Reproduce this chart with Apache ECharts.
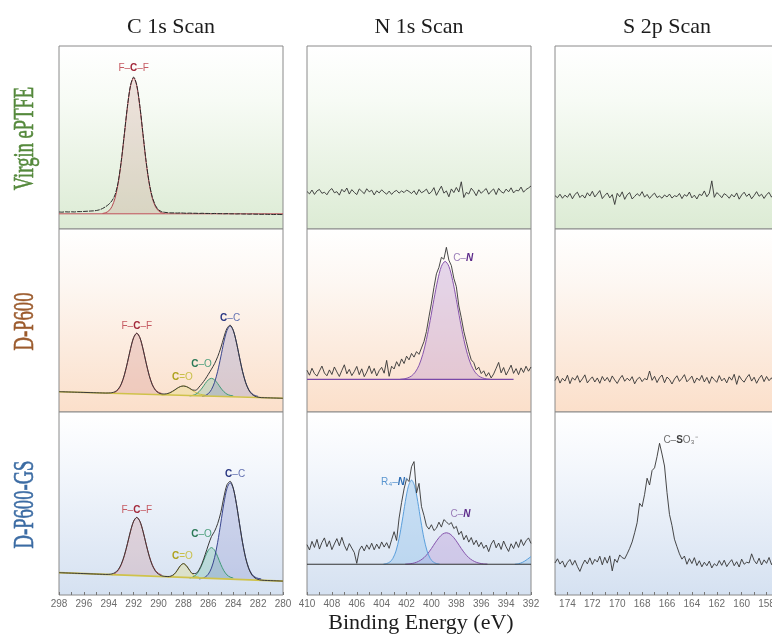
<!DOCTYPE html>
<html><head><meta charset="utf-8">
<script src="https://cdn.jsdelivr.net/npm/echarts@6/dist/echarts.min.js"></script>
<style>html,body{margin:0;padding:0;background:#fff}#c{width:772px;height:642px}</style>
</head><body><div id="c"></div>
<script>
// ================= DATA =================
const columnTitles = ['C 1s Scan', 'N 1s Scan', 'S 2p Scan'];
const rowLabels = ['Virgin ePTFE', 'D-P600', 'D-P600-GS'];
const axisTitle = 'Binding Energy (eV)';

const c1Range = [298, 280];
const n1Range = [410, 392];
const s2Range = [175, 157];
const c1TickLabels = [298, 296, 294, 292, 290, 288, 286, 284, 282, 280];
const n1TickLabels = [410, 408, 406, 404, 402, 400, 398, 396, 394, 392];
const s2TickLabels = [174, 172, 170, 168, 166, 164, 162, 160, 158];

const c1Step = 0.25;   // C 1s traces sampled every 0.25 eV from 298 eV
const noiseStep = 0.2; // N 1s / S 2p traces sampled every 0.2 eV from range start

// ---- Row 1 : Virgin ePTFE ----
const v_c1Raw = [
  9.3, 9.2, 9.4, 9.3, 9.4, 9.3, 9.5, 9.5,
  9.6, 9.7, 9.8, 9.9, 10.1, 10.5, 11.2, 12.2,
  13.5, 15.4, 18.6, 25.5, 37.0, 51.9, 67.1, 78.6,
  83.0, 78.6, 67.1, 51.9, 37.0, 25.2, 17.4, 12.9,
  10.5, 9.5, 9.1, 8.9, 8.8, 8.8, 8.7, 8.8,
  8.7, 8.6, 8.7, 8.6, 8.6, 8.5, 8.6, 8.5,
  8.5, 8.4, 8.5, 8.4, 8.4, 8.3, 8.4, 8.3,
  8.3, 8.2, 8.3, 8.2, 8.2, 8.1, 8.2, 8.1,
  8.1, 8.0, 8.1, 8.0, 8.0, 7.9, 8.0, 7.9,
  7.9];
const v_c1FCF = [[294.5,8.5],[294.25,8.9],[294,9.9],[293.75,12.2],[293.5,16.8],[293.25,24.8],[293,36.6],[292.75,51.5],[292.5,66.7],[292.25,78.2],[292,82.6],[291.75,78.2],[291.5,66.7],[291.25,51.5],[291,36.6],[290.75,24.8],[290.5,16.8],[290.25,12.2],[290,9.9],[289.75,8.9],[289.5,8.5]];
const v_c1Base = [[298, 8.3], [280, 8.3]];
const v_n1Raw = [
  20.5, 19.2, 21.3, 18.9, 20.8, 21.6, 19.5, 20.1, 18.7, 21.0,
  22.1, 19.8, 20.4, 18.5, 21.7, 20.2, 22.4, 19.1, 21.5, 20.0,
  18.8, 21.9, 20.6, 19.3, 22.0, 20.3, 21.2, 18.6, 20.9, 19.7,
  21.4, 20.1, 19.0, 20.7, 18.9, 20.4, 21.1, 19.6, 20.8, 19.9,
  21.3, 20.5, 19.4, 20.9, 18.7, 21.6, 19.8, 20.6, 21.8, 19.2,
  20.3, 22.6, 18.4, 21.0, 23.4, 19.6, 20.8, 17.6, 21.9, 19.9,
  22.7, 20.2, 25.8, 17.2, 20.0, 19.1, 22.3, 20.6, 18.2, 21.4,
  19.5, 20.9, 22.1, 19.0, 20.7, 21.9, 18.8, 22.2, 20.4, 19.6,
  21.8, 20.3, 22.5, 19.7, 21.2, 20.8, 22.9, 20.1, 21.6, 22.4,
  23.5];
const v_s2Raw = [
  18.2, 17.1, 19.0, 16.8, 18.5, 17.3, 19.4, 16.5, 18.9, 20.1,
  17.2, 18.6, 16.9, 19.8, 18.0, 20.6, 17.5, 19.2, 21.0, 16.6,
  18.3, 19.7, 17.0, 18.8, 13.4, 19.5, 17.6, 20.3, 16.2, 18.7,
  19.9, 16.4, 17.8, 19.3, 18.1, 20.4, 17.4, 18.9, 16.7, 18.4,
  19.6, 17.2, 18.0, 16.8, 18.6, 17.5, 19.1, 16.9, 18.2, 17.7,
  19.4, 16.6, 18.8, 17.9, 20.2, 17.0, 18.5, 16.4, 19.0, 18.3,
  20.8, 17.6, 19.5, 26.3, 17.3, 19.9, 18.7, 17.1, 19.3, 18.4,
  16.8, 18.9, 17.5, 19.7, 16.3, 18.6, 20.1, 17.8, 19.2, 16.5,
  18.3, 20.4, 17.9, 19.0, 16.7, 18.8, 20.0, 17.4, 19.6, 18.5,
  18.9];

// ---- Row 2 : D-P600 ----
const p_c1Env = [
  11.1, 11.05, 11.0, 10.95, 10.9, 10.85, 10.8, 10.75,
  10.7, 10.65, 10.6, 10.55, 10.5, 10.45, 10.4, 10.35,
  10.4, 10.55, 11.1, 12.45, 15.3, 20.25, 27.1, 34.65,
  40.7, 43.05, 40.6, 34.45, 26.8, 19.85, 14.8, 11.85,
  10.45, 9.9, 9.85, 10.15, 10.85, 11.85, 13.0, 13.9,
  14.2, 13.85, 12.95, 12.0, 11.9, 13.6, 15.6, 17.9,
  20.6, 23.4, 26.4, 30.2, 35.0, 40.85, 45.75, 47.45,
  44.7, 38.2, 29.95, 22.05, 15.95, 11.95, 9.7, 8.6,
  8.1, 7.85, 7.8, 7.75, 7.7, 7.65, 7.6, 7.55,
  7.5];
const p_c1Base = [[298, 11.1], [280, 7.5]];
const p_c1FCF = [[293.75,10.15],[293.5,10.75],[293.25,12.15],[293,15.05],[292.75,20.05],[292.5,26.95],[292.25,34.55],[292,40.65],[291.75,43.05],[291.5,40.65],[291.25,34.55],[291,26.95],[290.75,20.05],[290.5,15.05],[290.25,12.15],[290,10.75],[289.75,10.15]];
const p_c1CdO = [[289.75,9.25],[289.5,9.45],[289.25,9.9],[289,10.65],[288.75,11.7],[288.5,12.9],[288.25,13.85],[288,14.2],[287.75,13.85],[287.5,12.9],[287.25,11.7],[287,10.65],[286.75,9.9],[286.5,9.45],[286.25,9.25]];
const p_c1CO = [[287.5,8.8],[287.25,9.1],[287,9.75],[286.75,11.1],[286.5,13.1],[286.25,15.55],[286,17.6],[285.75,18.4],[285.5,17.6],[285.25,15.55],[285,13.1],[284.75,11.1],[284.5,9.75],[284.25,9.1],[284,8.8]];
const p_c1CC = [[286.5,8.55],[286.25,9.0],[286,10.05],[285.75,12.25],[285.5,16.2],[285.25,22.25],[285,30.1],[284.75,38.3],[284.5,44.6],[284.25,47.0],[284,44.6],[283.75,38.3],[283.5,30.1],[283.25,22.25],[283,16.2],[282.75,12.25],[282.5,10.05],[282.25,9.0],[282,8.55]];
const p_n1Raw = [
  22.8, 20.1, 23.9, 21.0, 19.6, 22.4, 25.1, 21.3, 19.8, 23.0,
  20.5, 24.6, 21.9, 19.4, 22.7, 25.8, 20.9, 23.3, 19.9, 22.1,
  24.9, 20.4, 23.6, 19.3, 21.8, 25.2, 21.0, 23.8, 19.7, 22.6,
  24.4, 21.2, 28.2, 19.5, 25.0, 23.5, 27.5, 25.0, 29.0, 26.5,
  30.5, 28.5, 32.0, 30.0, 33.0, 31.5, 35.0, 38.5, 44.0, 52.0,
  59.5, 68.0, 75.5, 79.0, 84.5, 83.5, 90.0, 83.0, 80.0, 73.0,
  68.5, 58.0, 51.5, 44.0, 38.5, 33.0, 28.5, 27.0, 23.0, 24.5,
  21.0, 22.5, 19.5, 21.5, 18.6, 20.8, 23.9, 27.1, 21.4, 24.3,
  20.2, 22.8, 25.6, 21.1, 23.7, 20.4, 24.1, 21.6, 25.0, 22.3,
  24.6];
const p_n1CN = [[402.5,17.9],[402.2,18.1],[401.9,18.65],[401.6,19.7],[401.3,21.8],[401,25.5],[400.7,31.4],[400.4,39.7],[400.1,50.1],[399.8,61.5],[399.5,72.0],[399.2,79.6],[398.9,82.3],[398.6,79.6],[398.3,72.0],[398,61.5],[397.7,50.1],[397.4,39.7],[397.1,31.4],[396.8,25.5],[396.5,21.8],[396.2,19.7],[395.9,18.65],[395.6,18.1],[395.3,17.9]];
const p_n1Base = [[410, 17.8], [393.4, 17.8]];
const p_s2Raw = [
  17.2, 19.6, 15.8, 18.4, 16.9, 20.1, 15.5, 18.8, 17.4, 19.9,
  16.2, 18.1, 20.3, 15.9, 17.7, 19.2, 16.4, 18.6, 15.7, 19.4,
  17.0, 18.9, 16.3, 19.7, 17.5, 15.6, 18.2, 20.0, 16.8, 18.5,
  17.1, 19.3, 15.4, 17.9, 19.0, 16.6, 18.3, 17.6, 22.4, 17.3,
  19.5, 16.1, 18.7, 20.2, 16.0, 19.1, 17.8, 15.3, 18.0, 19.8,
  16.7, 18.4, 20.4, 16.5, 17.9, 19.6, 15.8, 18.6, 17.2, 20.0,
  16.4, 18.9, 15.6, 19.3, 17.7, 16.2, 19.9, 17.0, 18.5, 15.9,
  19.2, 17.4, 20.6, 15.1, 19.8, 17.6, 16.3, 18.8, 20.5, 16.9,
  19.0, 15.7, 18.3, 20.1, 16.6, 19.4, 17.1, 18.7, 16.0, 19.5,
  17.8];

// ---- Row 3 : D-P600-GS ----
const g_c1Env = [
  12.2, 12.14, 12.07, 12.01, 11.95, 11.88, 11.82, 11.75,
  11.69, 11.63, 11.56, 11.5, 11.43, 11.37, 11.31, 11.24,
  11.28, 11.52, 12.25, 13.79, 16.83, 21.66, 28.1, 35.03,
  40.37, 42.41, 40.24, 34.78, 27.72, 21.15, 16.19, 13.02,
  11.36, 10.5, 10.16, 10.07, 10.35, 11.34, 13.48, 16.01,
  17.15, 15.88, 13.47, 11.71, 11.79, 13.73, 17.36, 22.2,
  27.29, 31.92, 34.8, 39.0, 45.0, 53.5, 60.25, 62.14,
  58.48, 49.96, 39.1, 28.53, 20.07, 14.31, 10.94, 9.28,
  8.52, 8.15, 7.99, 7.92, 7.86, 7.79, 7.73, 7.66,
  7.6];
const g_c1Base = [[298, 12.2], [280, 7.6]];
const g_c1FCF = [[293.75,11.0],[293.5,11.8],[293.25,13.4],[293,16.5],[292.75,21.4],[292.5,27.9],[292.25,34.9],[292,40.3],[291.75,42.4],[291.5,40.3],[291.25,34.9],[291,27.9],[290.75,21.4],[290.5,16.5],[290.25,13.4],[290,11.8],[289.75,11.0]];
const g_c1CdO = [[289.25,9.75],[289,10.1],[288.75,11.15],[288.5,13.35],[288.25,15.95],[288,17.15],[287.75,15.95],[287.5,13.35],[287.25,11.15],[287,10.1],[286.75,9.75]];
const g_c1CO = [[287.5,9.3],[287.25,9.8],[287,10.95],[286.75,13.25],[286.5,16.75],[286.25,20.95],[286,24.5],[285.75,25.9],[285.5,24.5],[285.25,20.95],[285,16.75],[284.75,13.25],[284.5,10.95],[284.25,9.8],[284,9.3]];
const g_c1CC = [[286.75,8.8],[286.5,9.1],[286.25,9.8],[286,11.4],[285.75,14.7],[285.5,20.4],[285.25,28.8],[285,39.3],[284.75,50.1],[284.5,58.3],[284.25,61.4],[284,58.3],[283.75,50.1],[283.5,39.3],[283.25,28.8],[283,20.4],[282.75,14.7],[282.5,11.4],[282.25,9.8],[282,9.1],[281.75,8.8]];
const g_n1Raw = [
  27.5, 24.6, 29.3, 26.0, 30.4, 25.1, 28.7, 31.2, 26.4, 29.6,
  24.8, 27.9, 30.8, 26.9, 31.5, 27.2, 24.3, 28.1, 25.6, 23.2,
  17.3, 24.5, 26.8, 24.1, 27.4, 25.0, 28.3, 24.7, 27.8, 25.3,
  29.0, 26.2, 28.6, 25.5, 30.2, 34.6, 29.8, 42.0, 50.5, 58.0,
  63.5, 62.0, 70.1, 72.9, 55.7, 61.0, 48.3, 43.5, 37.8, 36.0,
  38.4, 35.2, 36.5, 39.8, 37.1, 41.2, 40.0, 38.5, 39.6, 36.3,
  37.5, 33.0, 34.8, 30.2, 32.6, 28.9, 31.4, 27.5, 29.9, 26.4,
  28.8, 25.5, 27.3, 23.7, 27.8, 30.0, 25.8, 28.4, 24.9, 29.5,
  26.3, 23.8, 28.0, 25.4, 29.1, 26.0, 30.3, 27.0, 29.6, 31.2,
  28.2];
const g_n1R4N = [[403.85,16.9],[403.6,17.2],[403.35,18.0],[403.1,20.0],[402.85,24.0],[402.6,30.9],[402.35,40.4],[402.1,51.0],[401.85,59.5],[401.6,62.8],[401.35,59.5],[401.1,51.0],[400.85,40.4],[400.6,30.9],[400.35,24.0],[400.1,20.0],[399.85,18.0],[399.6,17.2],[399.35,16.9]];
const g_n1CN = [[402.1,16.9],[401.8,17.0],[401.5,17.3],[401.2,17.9],[400.9,18.9],[400.6,20.4],[400.3,22.6],[400,25.4],[399.7,28.5],[399.4,31.3],[399.1,33.3],[398.8,34.0],[398.5,33.3],[398.2,31.3],[397.9,28.5],[397.6,25.4],[397.3,22.6],[397,20.4],[396.7,18.9],[396.4,17.9],[396.1,17.3],[395.8,17.0],[395.5,16.9]];
const g_n1Edge = [[393.3,16.8],[393.0,17.1],[392.7,17.8],[392.4,19.0],[392.0,21.0]];
const g_n1Base = [[410, 16.8], [392, 16.8]];
const g_s2Raw = [
  17.5, 19.8, 16.9, 18.6, 15.2, 17.8, 19.4, 16.3, 18.9, 15.6,
  12.9, 16.4, 19.1, 17.0, 20.3, 16.7, 19.5, 18.0, 21.2, 16.5,
  20.6, 17.4, 21.4, 13.2, 19.6, 17.8, 21.9, 20.4, 19.8, 22.5,
  25.5, 29.0, 34.0, 39.5, 50.1, 48.3, 55.0, 63.8, 60.1, 68.0,
  69.5, 75.6, 82.9, 77.0, 70.5, 56.0, 44.0, 38.0, 30.5, 26.4,
  22.5, 19.6, 21.3, 16.8, 19.9, 17.2, 20.4, 16.1, 18.7, 15.4,
  17.9, 16.0, 18.5, 14.8, 17.1, 15.9, 18.8, 16.2, 19.0, 15.5,
  17.6, 19.3, 16.0, 18.2, 15.3, 19.6, 16.8, 17.9, 17.5, 22.5,
  18.9, 17.0, 20.1, 16.4, 19.2, 17.3, 20.5, 16.6, 19.0, 17.8,
  18.4];

// ================= BUILD =================
function grid(start, step, arr, expected, name) {
  if (arr.length !== expected) throw new Error(name + ' has ' + arr.length + ' values, expected ' + expected);
  return arr.map((v, i) => [+(start - i * step).toFixed(3), v]);
}
const L = [59, 307, 555], T = [46, 229, 412], W = 224, H = 183;
const ranges = [c1Range, n1Range, s2Range];
const tickLabels = [c1TickLabels, n1TickLabels, s2TickLabels];
const bgStops = [
  [['#ffffff', 0], ['#f7fbf5', 0.3], ['#dcebd4', 1]],
  [['#ffffff', 0], ['#fdf7f2', 0.3], ['#fbdfca', 1]],
  [['#ffffff', 0], ['#f4f7fc', 0.3], ['#d5e1f1', 1]]
];
const grids = [], xAxes = [], yAxes = [];
for (let r = 0; r < 3; r++) for (let c = 0; c < 3; c++) {
  grids.push({
    left: L[c], top: T[r], width: W, height: H, show: true,
    outerBoundsMode: 'none', containLabel: false,
    borderColor: '#8a8a8a', borderWidth: 1,
    backgroundColor: new echarts.graphic.LinearGradient(0, 0, 0, 1,
      bgStops[r].map(s => ({ offset: s[1], color: s[0] })))
  });
  const rg = ranges[c];
  const minorTicks = [];
  for (let v = Math.ceil(rg[1]); v <= rg[0]; v++) minorTicks.push(v);
  xAxes.push({
    gridIndex: r * 3 + c, type: 'value', min: rg[1], max: rg[0], inverse: true,
    axisLine: { show: false }, splitLine: { show: false },
    axisTick: { show: r === 2, inside: true, length: 3, customValues: minorTicks, lineStyle: { color: '#777' } },
    axisLabel: { show: r === 2, customValues: tickLabels[c], fontSize: 10, color: '#6b6b6b', margin: 4,
      hideOverlap: false, showMinLabel: true, showMaxLabel: true,
      fontFamily: '"Liberation Sans", Arial, sans-serif' }
  });
  yAxes.push({ gridIndex: r * 3 + c, type: 'value', min: 0, max: 100, show: false });
}

const lblFont = '"Liberation Sans", Arial, sans-serif';
function lbl(formatter, rich, offset) {
  Object.values(rich).forEach(s => { s.fontFamily = lblFont; s.fontSize = s.fontSize || 10; });
  return {
    symbol: 'circle', symbolSize: 1, silent: true, itemStyle: { color: 'rgba(0,0,0,0)' },
    data: [{ type: 'max' }],
    label: { show: true, position: 'inside', offset, formatter, rich }
  };
}
const R = {
  fcf: () => ({ a: { color: '#c55a62' }, b: { color: '#a3283a', fontWeight: 'bold' } }),
  cdo: () => ({ a: { color: '#c9c04a' }, b: { color: '#aea21e', fontWeight: 'bold' } }),
  co: () => ({ a: { color: '#4d9f7d' }, b: { color: '#2a7856', fontWeight: 'bold' } }),
  cc: () => ({ a: { color: '#6472b2' }, b: { color: '#2b3883', fontWeight: 'bold' } }),
  cn: () => ({ a: { color: '#9a7db8' }, b: { color: '#5c2a8a', fontWeight: 'bold', fontStyle: 'italic' } }),
  r4: () => ({ a: { color: '#5b96d0' }, b: { color: '#2d6db4', fontWeight: 'bold', fontStyle: 'italic' } }),
  so: () => ({ a: { color: '#6f6f6f' }, b: { color: '#3d3d3d', fontWeight: 'bold' } })
};

function ln(gi, data, color, width, extra) {
  return Object.assign({
    type: 'line', xAxisIndex: gi, yAxisIndex: gi, data, symbol: 'none', showSymbol: false,
    silent: true, animation: false, lineStyle: { color, width }, z: 3
  }, extra || {});
}
function comp(gi, data, color, fill, origin, markPoint) {
  return ln(gi, data, color, 1, {
    smooth: 0.3, areaStyle: { color: fill, origin, opacity: 1 }, z: 2, markPoint
  });
}

const col = {
  fcf: ['#b4434e', 'rgba(196,112,118,0.22)'],
  cdo: ['#cbc13f', 'rgba(222,214,110,0.30)'],
  co: ['#3f9a77', 'rgba(105,190,158,0.30)'],
  cc: ['#39458f', 'rgba(118,128,196,0.26)'],
  cn: ['#8654ad', 'rgba(172,128,204,0.30)'],
  r4: ['#5a9fdc', 'rgba(138,188,234,0.38)']
};

const C1 = c1Range[0], N1 = n1Range[0], S2 = s2Range[0];
const series = [
  // Row 1
  ln(0, v_c1Base, '#c0505a', 1),
  comp(0, v_c1FCF, col.fcf[0], 'rgba(190,120,110,0.20)', 8.3, lbl('{a|F–}{b|C}{a|–F}', R.fcf(), [0, -10])),
  ln(0, grid(C1, c1Step, v_c1Raw, 73, 'v_c1Raw'), '#2a2a2a', 1, { smooth: 0.3, lineStyle: { color: '#2a2a2a', width: 1, type: [5, 1] } }),
  ln(1, grid(N1, noiseStep, v_n1Raw, 91, 'v_n1Raw'), '#333', 0.9),
  ln(2, grid(S2, noiseStep, v_s2Raw, 91, 'v_s2Raw'), '#333', 0.9),
  // Row 2
  ln(3, p_c1Base, '#cfc24a', 1.6),
  comp(3, p_c1FCF, col.fcf[0], col.fcf[1], 9.85, lbl('{a|F–}{b|C}{a|–F}', R.fcf(), [0, -7])),
  comp(3, p_c1CdO, col.cdo[0], col.cdo[1], 9.1, lbl('{b|C}{a|=O}', R.cdo(), [-1, -9])),
  comp(3, p_c1CO, col.co[0], col.co[1], 8.65, lbl('{b|C}{a|–O}', R.co(), [-10, -14])),
  comp(3, p_c1CC, col.cc[0], col.cc[1], 8.35, lbl('{b|C}{a|–C}', R.cc(), [0, -8])),
  ln(3, grid(C1, c1Step, p_c1Env, 73, 'p_c1Env'), '#3a3a3a', 1, { smooth: 0.3 }),
  ln(4, p_n1Base, '#7a48a8', 1.2),
  comp(4, p_n1CN, col.cn[0], col.cn[1], 17.8, lbl('{a|C–}{b|N}', R.cn(), [18, -3])),
  ln(4, grid(N1, noiseStep, p_n1Raw, 91, 'p_n1Raw'), '#333', 0.9),
  ln(5, grid(S2, noiseStep, p_s2Raw, 91, 'p_s2Raw'), '#333', 0.9),
  // Row 3
  ln(6, g_c1Base, '#cfc24a', 1.6),
  comp(6, g_c1FCF, col.fcf[0], col.fcf[1], 10.6, lbl('{a|F–}{b|C}{a|–F}', R.fcf(), [0, -7])),
  comp(6, g_c1CdO, col.cdo[0], col.cdo[1], 9.65, lbl('{b|C}{a|=O}', R.cdo(), [-1, -7])),
  comp(6, g_c1CO, col.co[0], col.co[1], 9.07, lbl('{b|C}{a|–O}', R.co(), [-10, -13])),
  comp(6, g_c1CC, col.cc[0], col.cc[1], 8.69, lbl('{b|C}{a|–C}', R.cc(), [5, -8])),
  ln(6, grid(C1, c1Step, g_c1Env, 73, 'g_c1Env'), '#3a3a3a', 1, { smooth: 0.3 }),
  ln(7, g_n1Base, '#333', 1.2),
  comp(7, g_n1CN, col.cn[0], col.cn[1], 16.8, lbl('{a|C–}{b|N}', R.cn(), [14, -19])),
  comp(7, g_n1R4N, col.r4[0], col.r4[1], 16.8, lbl('{a|R₄–}{b|N}{a|⁺}', R.r4(), [-17, 2])),
  comp(7, g_n1Edge, col.r4[0], col.r4[1], 16.8),
  ln(7, grid(N1, noiseStep, g_n1Raw, 91, 'g_n1Raw'), '#333', 0.9),
  ln(8, grid(S2, noiseStep, g_s2Raw, 91, 'g_s2Raw'), '#333', 0.9,
    { markPoint: lbl('{a|C–}{b|S}{a|O₃⁻}', R.so(), [21, -3]) })
];

const serif = '"Liberation Serif", "Times New Roman", serif';
const graphics = [];
columnTitles.forEach((t, c) => graphics.push({
  type: 'text', x: L[c] + W / 2, y: 27.5, silent: true,
  style: { text: t, font: '22px ' + serif, fill: '#1c1c1c', align: 'center', verticalAlign: 'middle' }
}));
const rowColors = ['#55893c', '#9b5a2c', '#3b6ba3'];
rowLabels.forEach((t, r) => graphics.push({
  type: 'text', x: 25, y: T[r] + H / 2 + 1, rotation: Math.PI / 2, scaleX: 0.62, silent: true,
  style: { text: t, font: '30px ' + serif, fill: rowColors[r], align: 'center', verticalAlign: 'middle',
    stroke: rowColors[r], lineWidth: 0.6 }
}));
graphics.push({
  type: 'text', x: 421, y: 623, silent: true,
  style: { text: axisTitle, font: '22px ' + serif, fill: '#1c1c1c', align: 'center', verticalAlign: 'middle' }
});

const chart = echarts.init(document.getElementById('c'), null, { renderer: 'canvas' });
chart.setOption({
  animation: false,
  backgroundColor: '#ffffff',
  grid: grids, xAxis: xAxes, yAxis: yAxes,
  series, graphic: graphics
});
</script></body></html>
